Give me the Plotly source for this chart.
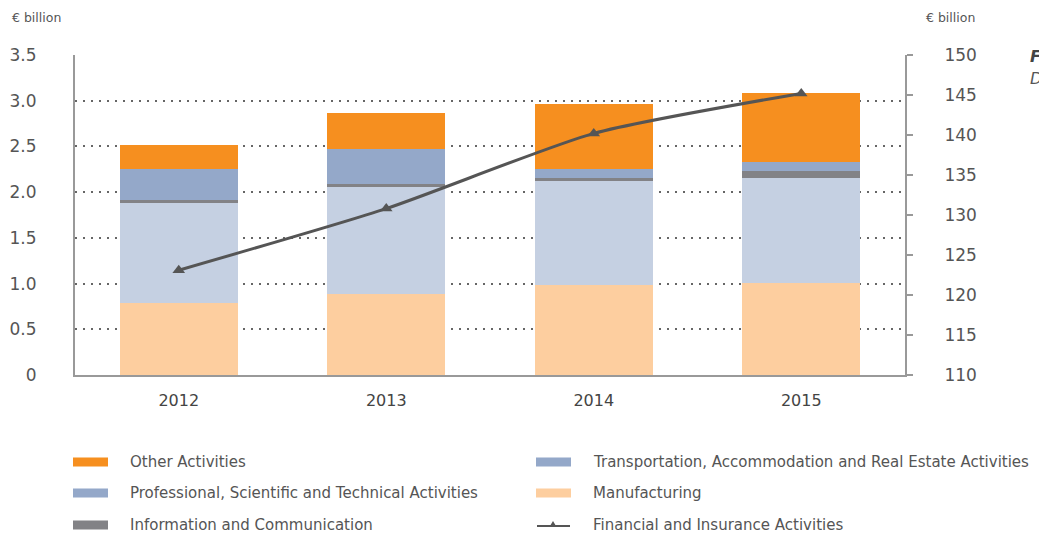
import plotly.graph_objects as go

years = ["2012", "2013", "2014", "2015"]
manufacturing = [0.79, 0.89, 0.98, 1.01]
transportation = [1.09, 1.17, 1.14, 1.15]
information = [0.036, 0.03, 0.03, 0.066]
professional = [0.34, 0.38, 0.10, 0.10]
other = [0.26, 0.40, 0.71, 0.76]
financial = [123.1, 130.8, 140.2, 145.2]

left_ticks = [0, 0.5, 1.0, 1.5, 2.0, 2.5, 3.0, 3.5]
left_ticktext = ["0", "0.5", "1.0", "1.5", "2.0", "2.5", "3.0", "3.5"]
right_ticks = [110, 115, 120, 125, 130, 135, 140, 145, 150]

W, H = 1047, 534
OFF = 8  # page body margin
L, R, T, B = 75 - OFF, 905 - OFF, 55 - OFF, 375 - OFF
FONT = "DejaVu Sans"
TXT = "#555555"

bar_series = [
    ("Manufacturing", manufacturing, "#FDCE9F"),
    ("Transportation, Accommodation and Real Estate Activities", transportation, "#C5D0E2"),
    ("Information and Communication", information, "#828286"),
    ("Professional, Scientific and Technical Activities", professional, "#94A8C9"),
    ("Other Activities", other, "#F68F1F"),
]

fig = go.Figure()
for name, vals, col in bar_series:
    fig.add_trace(go.Bar(x=years, y=vals, name=name, marker=dict(color=col, line=dict(width=0)),
                         showlegend=False, yaxis="y"))

fig.add_trace(go.Scatter(x=years, y=financial, name="Financial and Insurance Activities",
                         mode="lines+markers", yaxis="y2", showlegend=False,
                         line=dict(color="#555555", width=3, shape="spline", smoothing=0.6),
                         marker=dict(symbol="triangle-up", size=11, color="#555555")))

fig.update_layout(
    width=W, height=H, barmode="stack", bargap=0.43,
    paper_bgcolor="white", plot_bgcolor="white",
    margin=dict(l=L, r=W - R, t=T, b=H - B, pad=0, autoexpand=False),
    font=dict(family=FONT, color=TXT),
    xaxis=dict(range=[-0.5, 3.5], showgrid=False, showline=True, linecolor="#999999", linewidth=2,
               ticks="", tickfont=dict(size=16, color="#444444"), ticklabelstandoff=10,
               automargin=False),
    yaxis=dict(range=[0, 3.5], tickvals=left_ticks, ticktext=left_ticktext, showgrid=True,
               gridcolor="#666666", gridwidth=1.5, griddash="2px,6px", zeroline=False,
               showline=True, linecolor="#999999", linewidth=2, ticks="",
               tickfont=dict(size=17, color=TXT), ticklabelstandoff=33, automargin=False),
    yaxis2=dict(range=[110, 150], tickvals=right_ticks, overlaying="y", side="right",
                showgrid=False, zeroline=False, showline=True, linecolor="#999999", linewidth=2,
                ticks="outside", ticklen=6, tickwidth=1.5, tickcolor="#999999",
                tickfont=dict(size=17, color=TXT), ticklabelstandoff=28, automargin=False),
)

def px(x):
    return (x - OFF - L) / (R - L)

def py(y):
    return (B - (y - OFF)) / (B - T)

ann = []
ann.append(dict(text="€ billion", x=px(10), y=py(17), xref="paper", yref="paper",
                xanchor="left", yanchor="middle", showarrow=False, font=dict(size=12.5, color=TXT)))
ann.append(dict(text="€ billion", x=px(924), y=py(17), xref="paper", yref="paper",
                xanchor="left", yanchor="middle", showarrow=False, font=dict(size=12.5, color=TXT)))
ann.append(dict(text="<b><i>Figure</i></b>", x=px(1028), y=py(57), xref="paper", yref="paper",
                xanchor="left", yanchor="middle", showarrow=False, font=dict(size=16, color="#444444")))
ann.append(dict(text="<i>Domestic</i>", x=px(1028), y=py(78), xref="paper", yref="paper",
                xanchor="left", yanchor="middle", showarrow=False, font=dict(size=16, color="#555555")))

legend_items = [
    ("Other Activities", "#F68F1F", "bar", 73, 462),
    ("Professional, Scientific and Technical Activities", "#94A8C9", "bar", 73, 493),
    ("Information and Communication", "#828286", "bar", 73, 525),
    ("Transportation, Accommodation and Real Estate Activities", "#94A8C9", "bar", 536, 462),
    ("Manufacturing", "#FDCE9F", "bar", 536, 493),
    ("Financial and Insurance Activities", "#555555", "line", 536, 525),
]
shapes = []
for name, col, kind, x0, yc in legend_items:
    if kind == "bar":
        shapes.append(dict(type="rect", xref="paper", yref="paper", x0=px(x0), x1=px(x0 + 35),
                           y0=py(yc - 4.5), y1=py(yc + 4.5), fillcolor=col, line=dict(width=0)))
    else:
        shapes.append(dict(type="line", xref="paper", yref="paper", x0=px(x0 + 1), x1=px(x0 + 34),
                           y0=py(yc + 1), y1=py(yc + 1), line=dict(color=col, width=2)))
        shapes.append(dict(type="path", xref="paper", yref="paper",
                           path=f"M {px(x0+14)} {py(yc+1)} L {px(x0+20)} {py(yc+1)} L {px(x0+17)} {py(yc-4)} Z",
                           fillcolor=col, line=dict(width=0)))
    ann.append(dict(text=name, x=px(x0 + 55), y=py(yc), xref="paper", yref="paper",
                    xanchor="left", yanchor="middle", showarrow=False, font=dict(size=15, color=TXT)))

fig.update_layout(annotations=ann, shapes=shapes)
fig.write_html("out.html")
